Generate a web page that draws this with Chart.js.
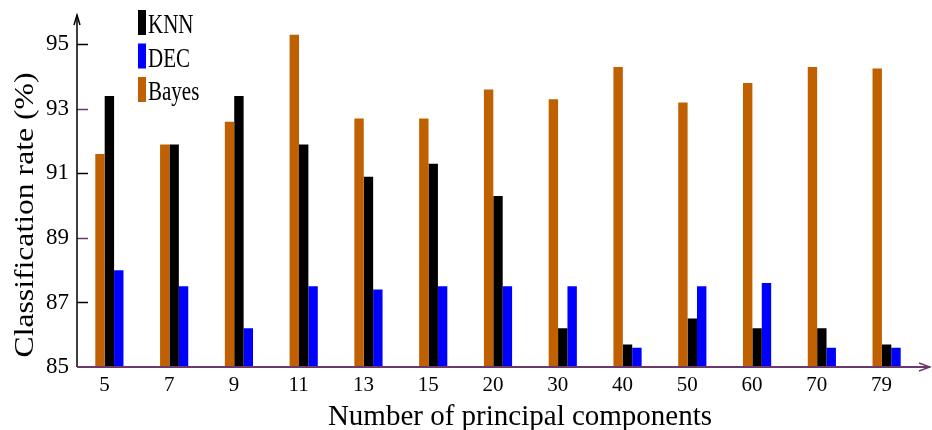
<!DOCTYPE html>
<html>
<head>
<meta charset="utf-8">
<script src="https://cdn.jsdelivr.net/npm/chart.js@4.4.1/dist/chart.umd.min.js"></script>
<style>
  html, body { margin: 0; padding: 0; background: #fff; }
  #wrap { width: 932px; height: 430px; position: relative; }
</style>
</head>
<body>
<div id="wrap"><canvas id="chart"></canvas></div>
<script>
  const components = ["5", "7", "9", "11", "13", "15", "20", "30", "40", "50", "60", "70", "79"];
  const bayes = [91.6, 91.9, 92.6, 95.3, 92.7, 92.7, 93.6, 93.3, 94.3, 93.2, 93.8, 94.3, 94.25];
  const knn   = [93.4, 91.9, 93.4, 91.9, 90.9, 91.3, 90.3, 86.2, 85.7, 86.5, 86.2, 86.2, 85.7];
  const dec   = [88.0, 87.5, 86.2, 87.5, 87.4, 87.5, 87.5, 87.5, 85.6, 87.5, 87.6, 85.6, 85.6];
  const yTicks = [85, 87, 89, 91, 93, 95];
  const legendOrder = ["KNN", "DEC", "Bayes"];
  const xTitle = "Number of principal components";
  const yTitle = "Classification rate (%)";

  const SERIF = "'Liberation Serif', 'DejaVu Serif', serif";
  const PURPLE = "#6b3a6b";

  // axis lines with arrows + short inner tick marks, drawn like the original plot
  const axesPlugin = {
    id: "axesArrows",
    afterDatasetsDraw(chart) {
      const { ctx, chartArea: a, scales } = chart;
      const y = scales.y;
      ctx.save();
      ctx.lineWidth = 1.5;

      // y tick marks (inside), alternating colours
      yTicks.forEach((v, i) => {
        if (i === 0) return;
        const py = Math.round(y.getPixelForValue(v)) + 0.5;
        ctx.strokeStyle = i % 2 === 0 ? PURPLE : "#000";
        ctx.beginPath();
        ctx.moveTo(a.left, py);
        ctx.lineTo(a.left + 11, py);
        ctx.stroke();
      });

      // y axis
      ctx.strokeStyle = "#000";
      ctx.beginPath();
      ctx.moveTo(a.left, a.bottom);
      ctx.lineTo(a.left, 15);
      ctx.stroke();
      ctx.beginPath();
      ctx.moveTo(a.left - 3, 25);
      ctx.lineTo(a.left, 15);
      ctx.lineTo(a.left + 3, 25);
      ctx.stroke();

      // x axis
      ctx.strokeStyle = PURPLE;
      ctx.lineWidth = 2;
      ctx.beginPath();
      ctx.moveTo(a.left, a.bottom);
      ctx.lineTo(930, a.bottom);
      ctx.stroke();
      ctx.lineWidth = 1.5;
      ctx.beginPath();
      ctx.moveTo(919, a.bottom - 4);
      ctx.lineTo(930, a.bottom);
      ctx.lineTo(919, a.bottom + 4);
      ctx.stroke();
      ctx.restore();
    }
  };

  // titles + legend drawn by hand so they sit where the source has them
  const textPlugin = {
    id: "titlesLegend",
    afterDraw(chart) {
      const { ctx } = chart;
      ctx.save();
      ctx.fillStyle = "#000";

      // x title
      ctx.font = "29px " + SERIF;
      ctx.textAlign = "center";
      ctx.textBaseline = "alphabetic";
      ctx.fillText(xTitle, 520, 425);

      // y title, stretched along its length like the source
      ctx.font = "27px " + SERIF;
      const w = ctx.measureText(yTitle).width;
      ctx.save();
      ctx.translate(33, 215);
      ctx.rotate(-Math.PI / 2);
      ctx.scale(285 / w, 1);
      ctx.fillText(yTitle, 0, 0);
      ctx.restore();

      // legend
      ctx.font = "21px " + SERIF;
      ctx.textAlign = "left";
      legendOrder.forEach((name, i) => {
        const ds = chart.data.datasets.find(d => d.label === name);
        const top = 10 + i * 33.5;
        ctx.fillStyle = ds.backgroundColor;
        ctx.fillRect(138, top, 8, 25);
        ctx.fillStyle = "#000";
        ctx.save();
        ctx.translate(148, top + 23);
        ctx.scale(1, 1.25);
        ctx.fillText(name, 0, 0);
        ctx.restore();
      });
      ctx.restore();
    }
  };

  new Chart(document.getElementById("chart"), {
    type: "bar",
    data: {
      labels: components,
      datasets: [
        { label: "Bayes", data: bayes, backgroundColor: "#c06000" },
        { label: "KNN", data: knn, backgroundColor: "#000000" },
        { label: "DEC", data: dec, backgroundColor: "#0000ff" }
      ]
    },
    options: {
      responsive: true,
      maintainAspectRatio: false,
      animation: false,
      layout: { padding: { top: 9, right: 13, left: 0, bottom: 0 } },
      datasets: { bar: { categoryPercentage: 0.435, barPercentage: 1.0 } },
      plugins: { legend: { display: false }, tooltip: { enabled: false } },
      scales: {
        x: {
          grid: { display: false, drawTicks: false },
          border: { display: false },
          ticks: {
            color: "#000",
            font: { family: SERIF, size: 21 },
            padding: 6,
            labelOffset: -5,
            maxRotation: 0
          },
          afterFit(s) { s.height = 63; }
        },
        y: {
          min: 85,
          max: 95.7,
          grid: { display: false, drawTicks: false },
          border: { display: false },
          afterBuildTicks(s) { s.ticks = yTicks.map(v => ({ value: v })); },
          ticks: {
            color: "#000",
            font: { family: SERIF, size: 23 },
            padding: 8
          },
          afterFit(s) { s.width = 77; }
        }
      }
    },
    plugins: [axesPlugin, textPlugin]
  });
</script>
</body>
</html>
